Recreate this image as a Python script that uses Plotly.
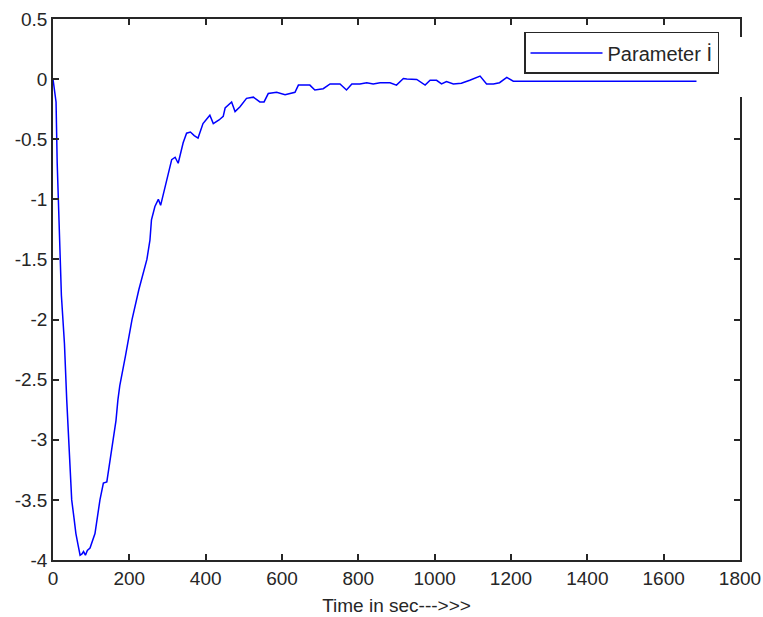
import plotly.graph_objects as go

t_sec = [0, 5, 8, 11, 14, 18, 22, 26, 30, 36, 45, 49, 55, 60, 66, 71, 76, 80, 85, 90, 97,
         110, 123, 132, 141, 149, 156, 165, 170, 175, 190, 207, 225, 246, 254, 258, 267,
         276, 282, 293, 302, 311, 320, 328, 341, 350, 360, 370, 380, 393, 411, 420, 435,
         446, 451, 468, 477, 490, 507, 525, 542, 553, 564, 586, 608, 634, 643, 673, 686,
         708, 726, 752, 769, 783, 804, 822, 839, 857, 883, 900, 918, 927, 953, 975, 988,
         1005, 1018, 1031, 1049, 1070, 1092, 1119, 1136, 1154, 1170, 1189, 1206, 1686]
param_i = [0, -0.1, -0.19, -0.7, -1.0, -1.25, -1.8, -2.0, -2.2, -2.67, -3.25, -3.5, -3.65,
           -3.78, -3.88, -3.96, -3.95, -3.93, -3.96, -3.92, -3.9,
           -3.78, -3.5, -3.36, -3.35, -3.17, -3.0, -2.84, -2.67, -2.55, -2.3, -2.0, -1.75,
           -1.5, -1.34, -1.17, -1.06, -1.0, -1.05, -0.9, -0.78, -0.67, -0.65, -0.7, -0.53,
           -0.45, -0.44, -0.47, -0.49, -0.37, -0.3, -0.37, -0.34, -0.31, -0.24, -0.19,
           -0.27, -0.23, -0.16, -0.15, -0.19, -0.19, -0.12, -0.11, -0.13, -0.11, -0.05,
           -0.05, -0.09, -0.08, -0.04, -0.04, -0.09, -0.04, -0.04, -0.03, -0.04, -0.03,
           -0.03, -0.05, 0.005, 0.0, -0.003, -0.05, -0.01, -0.01, -0.04, -0.02, -0.04,
           -0.035, -0.01, 0.025, -0.04, -0.04, -0.03, 0.014, -0.017, -0.017]

x_ticks = [0, 200, 400, 600, 800, 1000, 1200, 1400, 1600, 1800]
y_ticks = [-4, -3.5, -3, -2.5, -2, -1.5, -1, -0.5, 0, 0.5]
y_tick_labels = ["-4", "-3.5", "-3", "-2.5", "-2", "-1.5", "-1", "-0.5", "0", "0.5"]

FONT = "Liberation Sans, Arial, sans-serif"

fig = go.Figure()
fig.add_trace(go.Scatter(x=t_sec, y=param_i, mode="lines", name="Parameter İ",
                         line=dict(color="#0000ff", width=1.5)))

axis_common = dict(showline=True, linecolor="#262626", linewidth=1.5, mirror="ticks",
                   ticks="inside", ticklen=6, tickcolor="#262626", tickwidth=1.5,
                   showgrid=False, zeroline=False, automargin=False,
                   tickfont=dict(family=FONT, size=19, color="#262626"))

fig.update_xaxes(range=[0, 1800], tickvals=x_ticks,
                 title=dict(text="Time in sec--->>>", font=dict(family=FONT, size=19, color="#262626"),
                            standoff=11),
                 **axis_common)
fig.update_yaxes(range=[-4, 0.5], tickvals=y_ticks, ticktext=y_tick_labels, **axis_common)

# gap in the right-hand box edge beside the legend, as in the reference
fig.add_shape(type="rect", xref="paper", yref="paper",
              x0=0.988, x1=1.008, y0=(560 - 97) / 541, y1=(560 - 37) / 541,
              fillcolor="white", line=dict(width=0), layer="above")

fig.update_layout(
    width=763, height=617,
    margin=dict(l=53, r=23, t=19, b=57, autoexpand=False),
    paper_bgcolor="white", plot_bgcolor="white",
    showlegend=True,
    legend=dict(x=0.6856, y=0.976, xanchor="left", yanchor="top",
                bgcolor="white", bordercolor="#262626", borderwidth=1.5,
                font=dict(family=FONT, size=20, color="#262626"),
                itemwidth=72, tracegroupgap=0),
)

fig.write_html("out.html", config={"displayModeBar": False},
               post_script="document.body.style.margin='0';document.body.style.overflow='hidden';")
